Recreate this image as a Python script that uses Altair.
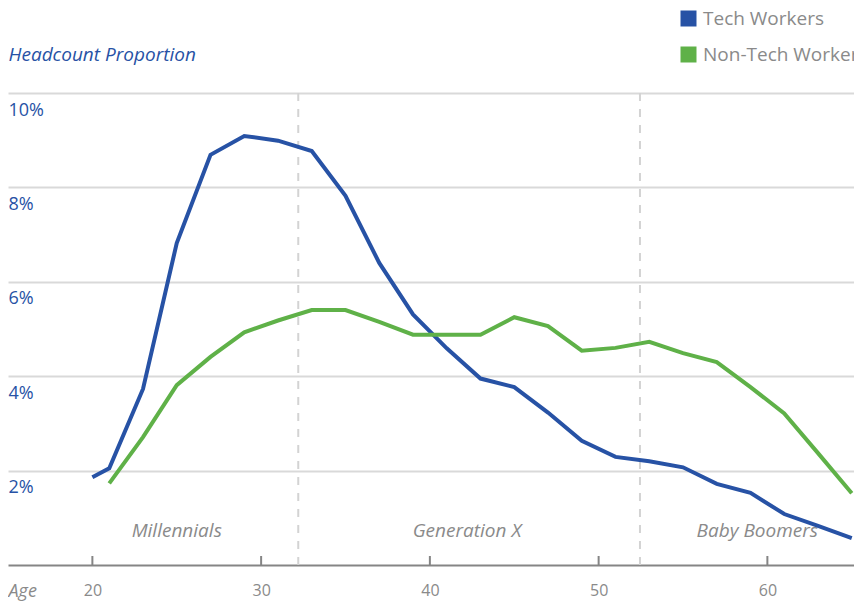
import altair as alt
import pandas as pd

# ---- data ----
tech_ages = [20, 21, 23, 25, 27, 29, 31, 33, 35, 37, 39, 41, 43, 45, 47, 49, 51, 53, 55, 57, 59, 61, 63, 65]
tech_vals = [1.86, 2.05, 3.73, 6.82, 8.69, 9.09, 8.99, 8.77, 7.82, 6.40, 5.31, 4.59,
             3.95, 3.77, 3.23, 2.63, 2.29, 2.20, 2.07, 1.72, 1.53, 1.08, 0.83, 0.57]
nontech_ages = [21, 23, 25, 27, 29, 31, 33, 35, 37, 39, 41, 43, 45, 47, 49, 51, 53, 55, 57, 59, 61, 63, 65]
nontech_vals = [1.73, 2.71, 3.81, 4.41, 4.93, 5.18, 5.40, 5.40, 5.15, 4.88, 4.88, 4.88,
                5.25, 5.06, 4.54, 4.60, 4.73, 4.49, 4.30, 3.77, 3.21, 2.37, 1.52]
series_names = ["Tech Workers", "Non-Tech Workers"]
generations = ["Millennials", "Generation X", "Baby Boomers"]
generation_label_ages = [25.0, 42.2, 59.4]
generation_boundaries = [32.2, 52.45]
x_ticks = [20, 30, 40, 50, 60]
y_ticks = [2, 4, 6, 8, 10]

BLUE = "#2752a5"
GREEN = "#5fb148"
GRAY = "#8a8a8a"
AXIS_GRAY = "#858585"
FONT = "Open Sans"
W, H = 846, 472

lines_df = pd.DataFrame(
    {"age": tech_ages + nontech_ages,
     "value": tech_vals + nontech_vals,
     "series": [series_names[0]] * len(tech_ages) + [series_names[1]] * len(nontech_ages)}
)
gen_df = pd.DataFrame({"name": generations, "age": generation_label_ages})
bound_df = pd.DataFrame({"age": generation_boundaries})
tick_df = pd.DataFrame({"age": x_ticks})

xscale = alt.Scale(domain=[15, 65.133], nice=False, zero=False)
yscale = alt.Scale(domain=[0, 10], nice=False, zero=True)

x_axis = alt.Axis(
    values=x_ticks, orient="bottom", grid=False,
    domain=True, domainColor=AXIS_GRAY, domainWidth=2,
    ticks=False, tickSize=0, labelPadding=30, labelBaseline="alphabetic",
    labelFont=FONT, labelFontSize=16, labelColor=GRAY, labelFlush=False,
    title="Age", titleX=0, titleY=31, titleAlign="left", titleBaseline="alphabetic",
    titleFont=FONT, titleFontSize=18, titleFontStyle="italic", titleFontWeight="normal",
    titleColor=GRAY)

lines = alt.Chart(lines_df).mark_line(strokeWidth=4).encode(
    x=alt.X("age:Q", scale=xscale, axis=x_axis),
    y=alt.Y("value:Q", scale=yscale, axis=alt.Axis(
        values=y_ticks, orient="left", grid=True, gridColor="#d9d9d9", gridWidth=2,
        domain=False, ticks=False, tickSize=0, labelPadding=0, labelAlign="left",
        labelBaseline="alphabetic", labelOffset=22, labelExpr="datum.value + '%'",
        labelFont=FONT, labelFontSize=18, labelColor=BLUE, labelFlush=False,
        title="Headcount Proportion", titleAngle=0, titleX=0, titleY=-33,
        titleAlign="left", titleBaseline="alphabetic", titleFont=FONT, titleFontSize=19,
        titleFontStyle="italic", titleFontWeight="normal", titleColor=BLUE)),
    color=alt.Color("series:N", sort=series_names,
                    scale=alt.Scale(domain=series_names, range=[BLUE, GREEN]),
                    legend=alt.Legend(
                        title=None, orient="none", legendX=671, legendY=-84,
                        direction="vertical", symbolType="square", symbolSize=64,
                        symbolStrokeWidth=8,
                        labelFont=FONT, labelFontSize=19, labelColor=GRAY,
                        labelOffset=5, labelLimit=400, rowPadding=-5, padding=0)),
    detail="series:N",
)

bounds = alt.Chart(bound_df).mark_rule(color="#d3d3d3", strokeWidth=2, strokeDash=[8, 8]).encode(
    x=alt.X("age:Q", scale=xscale, axis=x_axis),
    y=alt.value(0), y2=alt.value(H),
)

ticks = alt.Chart(tick_df).mark_rule(color=AXIS_GRAY, strokeWidth=2).encode(
    x=alt.X("age:Q", scale=xscale, axis=x_axis),
    y=alt.value(H - 9), y2=alt.value(H),
)

gen_text = alt.Chart(gen_df).mark_text(
    font=FONT, fontSize=19, fontStyle="italic", color=GRAY, align="center", baseline="alphabetic"
).encode(
    x=alt.X("age:Q", scale=xscale, axis=x_axis),
    y=alt.value(444),
    text="name:N",
)

chart = alt.layer(bounds, ticks, gen_text, lines).properties(
    width=W, height=H,
    autosize=alt.AutoSizeParams(type="none"),
    padding={"left": 0, "top": 85, "right": 0, "bottom": 36},
).configure_view(stroke=None)

chart.save("out.html", embed_options={"renderer": "svg", "actions": False})
